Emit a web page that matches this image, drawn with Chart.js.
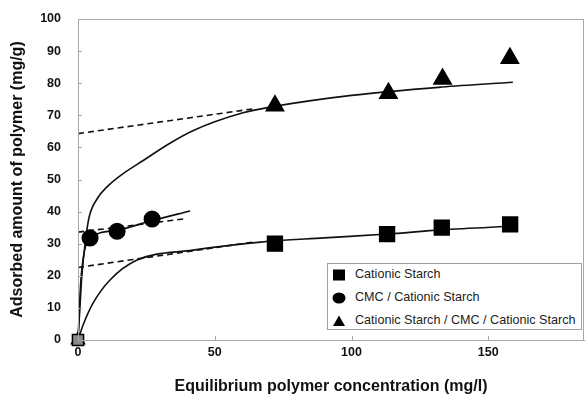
<!DOCTYPE html>
<html>
<head>
<meta charset="utf-8">
<script src="https://cdn.jsdelivr.net/npm/chart.js@4.4.0/dist/chart.umd.min.js"></script>
<style>
  body { margin: 0; background: #fff; }
  #wrap { position: relative; width: 585px; height: 401px; }
  #legenda {
    position: absolute; left: 327px; top: 263px; width: 255px; height: 67px;
    border: 1px solid #a0a0a0; background: #fff; box-sizing: border-box;
    font: 12.6px "Liberation Sans", Arial, sans-serif; color: #222;
  }
  .voce { position: absolute; left: 27px; white-space: nowrap; }
  .segno { position: absolute; left: 4px; width: 14px; height: 14px; }
</style>
</head>
<body>
<div id="wrap">
  <canvas id="grafico" width="585" height="401"></canvas>
  <div id="legenda"></div>
</div>
<script>
// punti misurati
var categorieX = [0, 50, 100, 150];
var valoriY = [0, 10, 20, 30, 40, 50, 60, 70, 80, 90, 100];

var nomiSerie = ['Cationic Starch', 'CMC / Cationic Starch', 'Cationic Starch / CMC / Cationic Starch'];

var amidoX = [0, 72, 113, 133, 158];
var amidoY = [0, 30, 33, 35, 36];

var cmcX = [4.4, 14.3, 27.1];
var cmcY = [31.8, 33.9, 37.7];

var triploX = [0, 72, 113.5, 133.3, 157.9];
var triploY = [0, 73, 76.9, 81.3, 87.8];

// curve
var curvaAmidoX = [0, 2, 5.5, 11.7, 21.6, 42, 66.7, 90, 113, 133, 160];
var curvaAmidoY = [0, 5, 11.5, 18.7, 24.9, 28, 30.5, 31.8, 33, 34.3, 35.5];
var trattAmidoX = [0, 65];
var trattAmidoY = [22.6, 30.6];

var curvaCmcX = [0, 1, 2.2, 4.4, 14.3, 27.1, 41];
var curvaCmcY = [0, 18, 27, 31.6, 34.2, 37.2, 40.2];
var trattCmcX = [0, 38.5];
var trattCmcY = [33.6, 37.7];

var curvaTriploX = [0, 0.7, 1.4, 2.6, 4, 7, 11, 16, 24, 33, 42, 60, 72, 100, 133, 159];
var curvaTriploY = [0, 10, 20, 30, 38, 44, 48, 51.5, 56, 61, 65.2, 70.7, 72.8, 76.2, 78.8, 80.3];
var trattTriploX = [0, 64];
var trattTriploY = [64.3, 72];

function coppie(xs, ys) {
    var out = [];
    for (var i = 0; i < xs.length; i++) {
        out.push({x: xs[i], y: ys[i]});
    }
    return out;
}

function linea(xs, ys, tratteggio) {
    return {
        data: coppie(xs, ys),
        showLine: true,
        borderColor: '#111',
        borderWidth: 1.6,
        borderDash: tratteggio ? [6, 4] : [],
        cubicInterpolationMode: tratteggio ? 'default' : 'monotone',
        pointRadius: 0,
        clip: false,
        order: 2
    };
}

function punti(xs, ys, stile, raggio) {
    var colori = [], raggi = [];
    for (var i = 0; i < xs.length; i++) {
        colori.push(xs[i] === 0 ? '#8a8a8a' : '#000');
        raggi.push(xs[i] === 0 ? raggio * 0.75 : raggio);
    }
    return {
        data: coppie(xs, ys),
        showLine: false,
        pointStyle: stile,
        pointRadius: raggi,
        backgroundColor: colori,
        borderColor: '#000',
        borderWidth: 1.5,
        clip: false,
        order: 1
    };
}

var tacche = {
    id: 'tacche',
    afterDraw: function (chart) {
        var ctx = chart.ctx;
        var a = chart.chartArea;
        var sx = chart.scales.x, sy = chart.scales.y;
        ctx.save();
        ctx.strokeStyle = '#a8a8a8';
        ctx.lineWidth = 1;
        ctx.strokeRect(a.left + 0.5, a.top + 0.5, a.right - a.left - 1, a.bottom - a.top);
        ctx.beginPath();
        for (var i = 0; i < valoriY.length; i++) {
            var py = Math.round(sy.getPixelForValue(valoriY[i])) + 0.5;
            ctx.moveTo(a.left, py);
            ctx.lineTo(a.left + 4, py);
        }
        for (var j = 0; j < categorieX.length; j++) {
            var px = Math.round(sx.getPixelForValue(categorieX[j])) + 0.5;
            ctx.moveTo(px, a.bottom);
            ctx.lineTo(px, a.bottom - 4);
        }
        ctx.stroke();
        ctx.restore();
    }
};

var ctx = document.getElementById('grafico');
var chart = new Chart(ctx, {
    type: 'scatter',
    data: {
        datasets: [
            linea(curvaAmidoX, curvaAmidoY, false),
            linea(trattAmidoX, trattAmidoY, true),
            linea(curvaCmcX, curvaCmcY, false),
            linea(trattCmcX, trattCmcY, true),
            linea(curvaTriploX, curvaTriploY, false),
            linea(trattTriploX, trattTriploY, true),
            punti(amidoX, amidoY, 'rect', 10.5),
            punti(cmcX, cmcY, 'circle', 7.8),
            punti(triploX, triploY, 'triangle', 10)
        ]
    },
    options: {
        responsive: false,
        animation: false,
        layout: { autoPadding: false, padding: { top: 19, right: 1, left: 0, bottom: 0 } },
        plugins: { legend: { display: false }, tooltip: { enabled: false } },
        scales: {
            x: {
                type: 'linear',
                min: 0,
                max: 185,
                afterBuildTicks: function (s) {
                    s.ticks = categorieX.map(function (v) { return {value: v}; });
                },
                afterFit: function (s) { s.height = 61; s.paddingLeft = 0; s.paddingRight = 0; },
                grid: { display: false, drawTicks: false },
                border: { color: '#a8a8a8' },
                ticks: {
                    padding: 5,
                    color: '#111',
                    font: { family: 'Liberation Sans', size: 12.5, weight: 'bold' }
                },
                title: {
                    display: true,
                    text: 'Equilibrium polymer concentration (mg/l)',
                    color: '#111',
                    padding: { top: 0, bottom: 5 },
                    font: { family: 'Liberation Sans', size: 16, weight: 'bold' }
                }
            },
            y: {
                min: 0,
                max: 100,
                afterBuildTicks: function (s) {
                    s.ticks = valoriY.map(function (v) { return {value: v}; });
                },
                afterFit: function (s) { s.width = 78; s.paddingTop = 0; s.paddingBottom = 0; },
                grid: { display: false, drawTicks: false },
                border: { color: '#a8a8a8' },
                ticks: {
                    padding: 17,
                    color: '#111',
                    font: { family: 'Liberation Sans', size: 12.5, weight: 'bold' }
                },
                title: {
                    display: true,
                    text: 'Adsorbed amount of polymer (mg/g)',
                    color: '#111',
                    padding: { top: 8, bottom: 0 },
                    font: { family: 'Liberation Sans', size: 16, weight: 'bold' }
                }
            }
        }
    },
    plugins: [tacche]
});

// legenda dentro il grafico
var segni = [
    '<svg class="segno" viewBox="0 0 14 14"><rect x="1" y="1.5" width="12" height="11" fill="#000"/></svg>',
    '<svg class="segno" viewBox="0 0 14 14"><ellipse cx="7" cy="7" rx="6.5" ry="5.5" fill="#000"/></svg>',
    '<svg class="segno" viewBox="0 0 14 14"><polygon points="7,1.5 13,12 1,12" fill="#000"/></svg>'
];
var alto = [4, 27, 50];
var html = '';
for (var i = 0; i < nomiSerie.length; i++) {
    html += '<div style="position:absolute;top:' + alto[i] + 'px;left:0;width:100%;height:15px">' +
        segni[i] + '<span class="voce" style="top:-1px">' + nomiSerie[i] + '</span></div>';
}
document.getElementById('legenda').innerHTML = html;
</script>
</body>
</html>
